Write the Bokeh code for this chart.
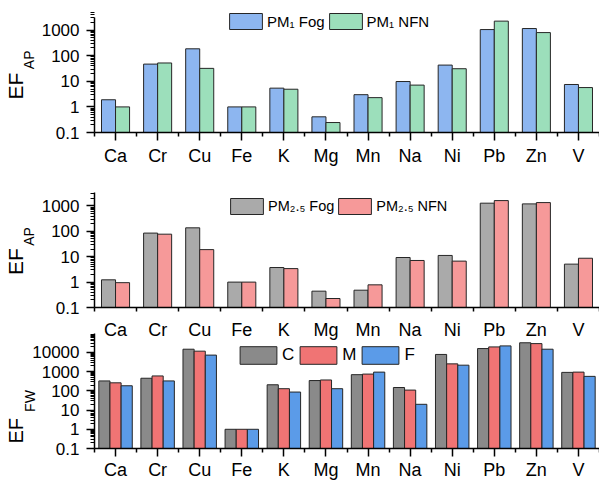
import math
from bokeh.plotting import figure
from bokeh.layouts import column
from bokeh.models import (Range1d, FixedTicker, CustomJSTickFormatter,
                          LinearAxis, ColumnDataSource)
from bokeh.core.properties import value
from bokeh.transform import dodge
from bokeh.embed import file_html
from bokeh.resources import INLINE

# ---------------- data ----------------
elements = ["Ca", "Cr", "Cu", "Fe", "K", "Mg", "Mn", "Na", "Ni", "Pb", "Zn", "V"]

pm1_fog = [1.9, 47, 186, 1.0, 5.4, 0.41, 3.0, 9.8, 43, 1050, 1150, 7.5]
pm1_nfn = [1.0, 52, 32, 1.0, 4.9, 0.245, 2.3, 7.1, 31, 2240, 800, 5.7]

pm25_fog = [1.23, 85, 137, 1.0, 3.75, 0.44, 0.48, 9.3, 11.2, 1280, 1200, 5.1]
pm25_nfn = [0.95, 77, 19, 1.0, 3.4, 0.226, 0.78, 7.1, 6.7, 1620, 1350, 8.7]

fw_c = [330, 455, 14800, 1.0, 208, 345, 700, 150, 7900, 16000, 32000, 920]
fw_m = [263, 600, 11700, 1.0, 130, 370, 750, 110, 2550, 19500, 29000, 950]
fw_f = [185, 330, 7300, 1.0, 87, 130, 950, 20, 2180, 22000, 14800, 570]

major_decades_ap = [0.1, 1, 10, 100, 1000]
major_decades_fw = [0.1, 1, 10, 100, 1000, 10000]

# ---------------- styling ----------------
FONT = "Liberation Sans"
OUTLINE = "#262626"
NBSP = "\u00a0"
idx = list(range(len(elements)))
centers = idx
bounds = [i - 0.5 for i in range(len(elements) + 1)]
W = 599
LEFT = 88
PX_CAT = (W - LEFT) / len(elements)
HAS_ORIENT = "axis_label_orientation" in LinearAxis.properties()


def minor_ticks(top_exp):
    return [m * 10.0 ** k for k in range(-1, top_exp) for m in range(2, 10)]


def style_x(ax, size, standoff):
    ax.major_label_text_font = FONT
    ax.major_label_text_font_size = size
    ax.major_label_text_color = "black"
    ax.major_label_standoff = standoff
    ax.axis_line_width = 1.5
    ax.axis_line_color = "black"
    ax.major_tick_line_width = 1.5
    ax.minor_tick_line_width = 1.5
    ax.major_tick_line_color = "black"
    ax.minor_tick_line_color = "black"
    ax.major_tick_in = 0
    ax.major_tick_out = 8
    ax.minor_tick_in = 0
    ax.minor_tick_out = 4


class Panel:
    """Helper: converts pixel offsets (from frame bottom-left) into data values."""

    def __init__(self, height, b_top, b_bottom, decade, axis_top_px, majors, top_exp,
                 xlab_size, standoff, xlabels=True):
        self.frame_h = height - b_top - b_bottom
        self.decade = decade
        y_end = self.yd(self.frame_h)
        p = figure(width=W, height=height, x_range=Range1d(-0.5, len(elements) - 0.5),
                   y_range=Range1d(0.1, y_end), y_axis_type="log",
                   output_backend="svg", toolbar_location=None,
                   min_border_left=LEFT, min_border_right=0,
                   min_border_top=b_top, min_border_bottom=b_bottom)
        p.outline_line_color = None
        p.grid.visible = False
        p.background_fill_color = None
        p.border_fill_color = "white"

        xa = p.xaxis[0]
        style_x(xa, xlab_size, standoff)
        if xlabels:
            xa.ticker = FixedTicker(ticks=centers, minor_ticks=bounds)
            xa.major_label_overrides = {i: e for i, e in enumerate(elements)}
        else:
            xa.ticker = FixedTicker(ticks=[], minor_ticks=bounds)
            extra = LinearAxis(fixed_location=0.1,
                               ticker=FixedTicker(ticks=[], minor_ticks=centers))
            style_x(extra, xlab_size, standoff)
            extra.axis_line_color = None
            extra.minor_tick_out = 8
            p.add_layout(extra, "below")

        ya = p.yaxis[0]
        ya.bounds = (0.1, self.yd(axis_top_px))
        ya.ticker = FixedTicker(ticks=majors, minor_ticks=minor_ticks(top_exp))
        ya.formatter = CustomJSTickFormatter(code="return String(tick)")
        ya.major_label_text_font = FONT
        ya.major_label_text_font_size = "17px"
        ya.major_label_text_color = "black"
        ya.major_label_standoff = 7
        ya.axis_line_width = 1.5
        ya.axis_line_color = "black"
        ya.major_tick_line_width = 1.5
        ya.minor_tick_line_width = 1
        ya.major_tick_line_color = "black"
        ya.minor_tick_line_color = "black"
        ya.major_tick_in = 0
        ya.major_tick_out = 8
        ya.minor_tick_in = 0
        ya.minor_tick_out = 4
        self.p = p

    def yd(self, dy):
        return 0.1 * 10 ** (dy / self.decade)

    def side_title(self, text, size, standoff):
        """Tick-less extra left axis whose rotated axis label is one piece of
        the y title; pieces stack outward from the main axis."""
        ax = LinearAxis(ticker=FixedTicker(ticks=[], minor_ticks=[]),
                        axis_line_color=None, major_tick_line_color=None,
                        minor_tick_line_color=None, major_tick_in=0, major_tick_out=0,
                        minor_tick_in=0, minor_tick_out=0, major_label_standoff=0,
                        axis_label=text, axis_label_standoff=standoff,
                        axis_label_text_font=FONT, axis_label_text_font_size=size,
                        axis_label_text_font_style="normal", axis_label_text_color="black")
        if HAS_ORIENT:
            ax.axis_label_orientation = "vertical"
        self.p.add_layout(ax, "left")

    def legend(self, loc, gw, gh, size, standoff, spacing=0):
        leg = self.p.legend[0]
        leg.orientation = "horizontal"
        leg.location = loc
        leg.glyph_width = gw
        leg.glyph_height = gh
        leg.label_standoff = standoff
        leg.spacing = spacing
        leg.padding = 0
        leg.margin = 0
        leg.label_width = 0
        leg.label_height = 0
        leg.border_line_color = None
        leg.background_fill_alpha = 0
        leg.label_text_font = FONT
        leg.label_text_font_size = size
        leg.label_text_color = "black"


# ---------------- panel 1 ----------------
P1 = Panel(190, 10, 58, 25.6, 115.3, major_decades_ap, 4, "18px", 5)
p1 = P1.p
src1 = ColumnDataSource(dict(x=idx, fog=pm1_fog, nfn=pm1_nfn))
p1.vbar(x=dodge("x", -1 / 6), top="fog", bottom=0.1, width=1 / 3, source=src1,
        fill_color="#8DB6F0", line_color=OUTLINE, line_width=1, legend_label="PM₁ Fog")
p1.vbar(x=dodge("x", 1 / 6), top="nfn", bottom=0.1, width=1 / 3, source=src1,
        fill_color="#9CDFBB", line_color=OUTLINE, line_width=1, legend_label="PM₁ NFN")
P1.legend((131, 101), 41, 20, "15px", 1)
P1.side_title(NBSP * 6 + "AP", "14px", 2)
P1.side_title("EF" + NBSP * 5, "21px", -9)

# ---------------- panel 2 ----------------
P2 = Panel(126, 2, 9, 25.4, 115, major_decades_ap, 4, "18px", 0, xlabels=False)
p2 = P2.p
src2 = ColumnDataSource(dict(x=idx, fog=pm25_fog, nfn=pm25_nfn))
p2.vbar(x=dodge("x", -1 / 6), top="fog", bottom=0.1, width=1 / 3, source=src2,
        fill_color="#AAAAAA", line_color=OUTLINE, line_width=1, legend_label="PM₂.₅ Fog")
p2.vbar(x=dodge("x", 1 / 6), top="nfn", bottom=0.1, width=1 / 3, source=src2,
        fill_color="#F69999", line_color=OUTLINE, line_width=1, legend_label="PM₂.₅ NFN")
P2.legend((132, 91), 41, 20, "14.5px", 1)
P2.side_title(NBSP * 7 + "AP", "14px", 2)
P2.side_title("EF" + NBSP * 4, "21px", -9)

# ---------------- panel 3 ----------------
P3 = Panel(166, 2, 32, 117 / 6.0, 117, major_decades_fw, 5, "18px", 3)
p3 = P3.p
src3 = ColumnDataSource(dict(x=idx, c=fw_c, m=fw_m, f=fw_f))
bw = 0.265
p3.vbar(x=dodge("x", -bw), top="c", bottom=0.1, width=bw, source=src3,
        fill_color="#8A8A8A", line_color=OUTLINE, line_width=1, legend_label="C")
p3.vbar(x=dodge("x", 0), top="m", bottom=0.1, width=bw, source=src3,
        fill_color="#F07474", line_color=OUTLINE, line_width=1, legend_label="M")
p3.vbar(x=dodge("x", bw), top="f", bottom=0.1, width=bw, source=src3,
        fill_color="#5B9BE8", line_color=OUTLINE, line_width=1, legend_label="F")
P3.legend((141, 82), 46, 22, "17px", 1, spacing=1)
P3.side_title("FW" + NBSP * 9, "14px", -8)
P3.side_title("EF" + NBSP * 17, "20px", -8)

# element names under panel 2: drawn at the top of panel 3's frame
lab_src = ColumnDataSource(dict(x=idx, y=[P3.yd(P3.frame_h - 2)] * len(elements), t=elements))
p3.text(x="x", y="y", text="t", source=lab_src, text_align="center", text_baseline="top",
        text_font=value(FONT), text_font_size="18px", text_color="black")

layout = column(p1, p2, p3)
open("out.html", "w").write(file_html(layout, INLINE))
